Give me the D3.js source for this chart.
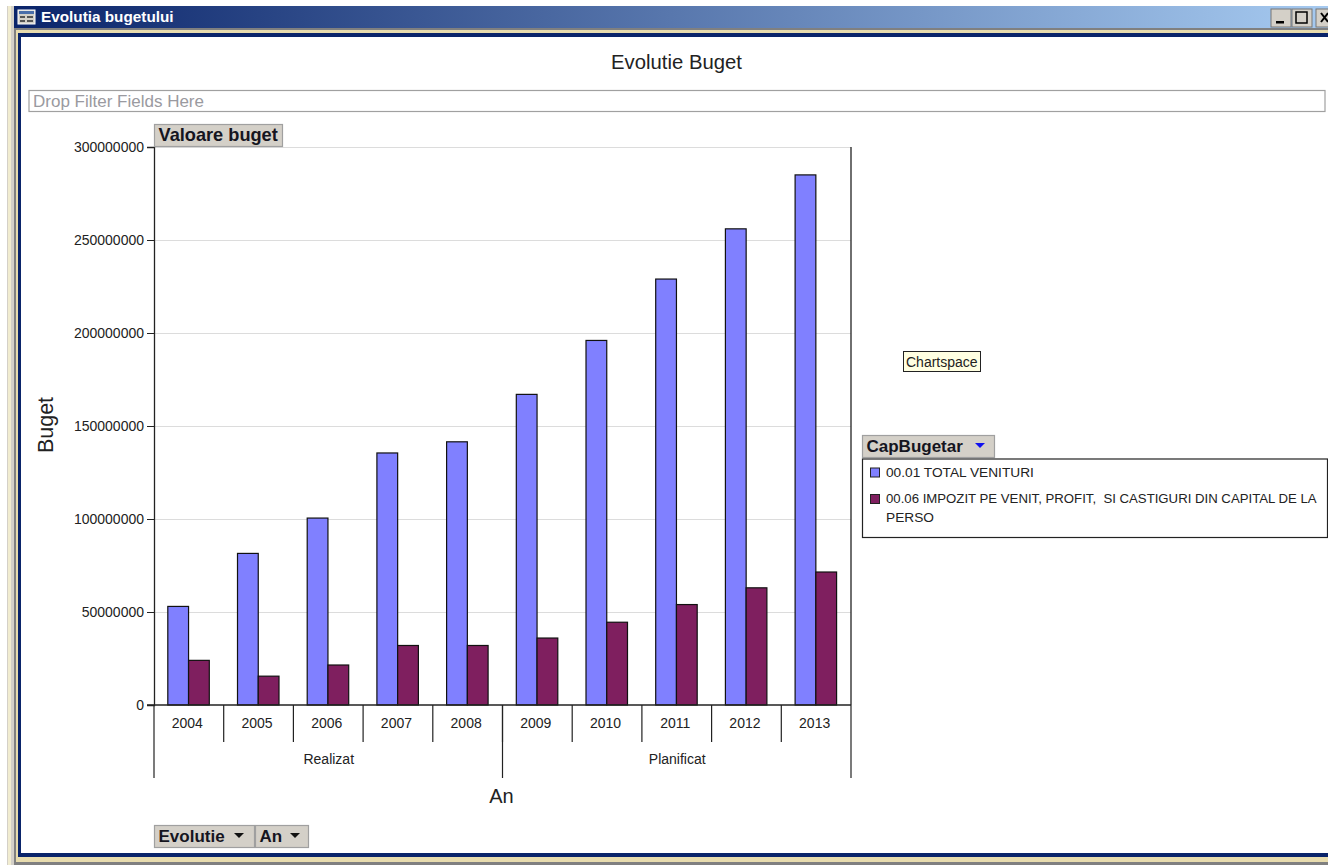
<!DOCTYPE html>
<html>
<head>
<meta charset="utf-8">
<title>Evolutia bugetului</title>
<script src="https://cdn.jsdelivr.net/npm/d3@7"></script>
<style>
  html, body { margin: 0; padding: 0; background: #fff; overflow: hidden; }
  svg { display: block; font-family: "Liberation Sans", Arial, sans-serif; }
</style>
</head>
<body>
<div id="chart"></div>
<script>
// values
var years = ['2004', '2005', '2006', '2007', '2008', '2009', '2010', '2011', '2012', '2013'];
var groups = ['Realizat', 'Planificat'];
var groupSizes = [5, 5];
var seriesNames = ['00.01 TOTAL VENITURI', '00.06 IMPOZIT PE VENIT, PROFIT,  SI CASTIGURI DIN CAPITAL DE LA', 'PERSO'];
var totalVenituri = [53000000, 81500000, 100500000, 135500000, 141500000, 167000000, 196000000, 229000000, 256000000, 285000000];
var impozit = [24000000, 15500000, 21500000, 32000000, 32000000, 36000000, 44500000, 54000000, 63000000, 71500000];
var yTicks = [0, 50000000, 100000000, 150000000, 200000000, 250000000, 300000000];

var W = 1328, H = 865;
var L = 154, R = 851, T = 147, B = 705;
var colors = ['#8080ff', '#7f1f5f'];
var ink = '#222';

var svg = d3.select('#chart').append('svg')
  .attr('width', W).attr('height', H)
  .attr('viewBox', '0 0 ' + W + ' ' + H);

// ---- window frame ----
var grad = svg.append('defs').append('linearGradient').attr('id', 'titlebar');
grad.append('stop').attr('offset', '0%').attr('stop-color', '#0a246a');
grad.append('stop').attr('offset', '100%').attr('stop-color', '#a6caf0');

svg.append('rect').attr('x', 7).attr('y', 6).attr('width', W - 7).attr('height', H - 6).attr('fill', '#d4d0c8');
svg.append('rect').attr('x', 8).attr('y', 6).attr('width', 3).attr('height', H - 6).attr('fill', '#f1ecd0');
svg.append('rect').attr('x', 14).attr('y', 27).attr('width', W - 14).attr('height', 838).attr('fill', '#808080');
svg.append('rect').attr('x', 16).attr('y', 30).attr('width', W - 16).attr('height', 832).attr('fill', '#e8dcae');
svg.append('rect').attr('x', 18).attr('y', 33).attr('width', W - 18).attr('height', 824).attr('fill', '#0a246a');
svg.append('rect').attr('x', 21).attr('y', 37).attr('width', W - 21).attr('height', 816).attr('fill', '#fff');
svg.append('rect').attr('x', 14).attr('y', 6).attr('width', W - 14).attr('height', 22).attr('fill', 'url(#titlebar)');

// title bar icon + caption
var icon = svg.append('g').attr('transform', 'translate(18,10)');
icon.append('rect').attr('width', 17).attr('height', 14).attr('fill', '#d4d0c8').attr('stroke', '#fff');
icon.append('rect').attr('x', 1).attr('y', 1).attr('width', 15).attr('height', 3).attr('fill', '#4a6ea9');
icon.append('rect').attr('x', 2).attr('y', 6).attr('width', 5).attr('height', 2).attr('fill', '#555');
icon.append('rect').attr('x', 2).attr('y', 10).attr('width', 5).attr('height', 2).attr('fill', '#555');
icon.append('rect').attr('x', 9).attr('y', 6).attr('width', 6).attr('height', 2).attr('fill', '#555');
icon.append('rect').attr('x', 9).attr('y', 10).attr('width', 6).attr('height', 2).attr('fill', '#555');
svg.append('text').attr('x', 41).attr('y', 22)
  .attr('font-size', 15.3).attr('font-weight', 700).attr('fill', '#fff')
  .text('Evolutia bugetului');

// window buttons
[1271, 1292, 1316].forEach(function(x) {
  svg.append('rect').attr('x', x).attr('y', 9).attr('width', 20).attr('height', 18)
    .attr('fill', '#d4d0c8').attr('stroke', '#777').attr('stroke-width', 1);
});
svg.append('rect').attr('x', 1276).attr('y', 21).attr('width', 8).attr('height', 2.5).attr('fill', '#000');
svg.append('rect').attr('x', 1296).attr('y', 12).attr('width', 11).attr('height', 11)
  .attr('fill', 'none').attr('stroke', '#000').attr('stroke-width', 1.5);
svg.append('path').attr('d', 'M1321,13L1328,22M1328,13L1321,22').attr('stroke', '#000').attr('stroke-width', 2);

// ---- chart title and filter zone ----
svg.append('text').attr('x', 676.5).attr('y', 69)
  .attr('text-anchor', 'middle').attr('font-size', 20.3).attr('fill', ink)
  .text('Evolutie Buget');

svg.append('rect').attr('x', 29).attr('y', 90.5).attr('width', 1296).attr('height', 21)
  .attr('fill', '#fff').attr('stroke', '#a0a0a0').attr('stroke-width', 1.2);
svg.append('text').attr('x', 33).attr('y', 107)
  .attr('font-size', 17).attr('fill', '#9a9aa0')
  .text('Drop Filter Fields Here');

// ---- scales ----
var x0 = d3.scaleBand().domain(years).range([L, R]);
var x1 = d3.scaleBand().domain([0, 1]).range([0, x0.bandwidth()]).paddingOuter(0.68).paddingInner(0);
var y = d3.scaleLinear().domain([0, 300000000]).range([B, T]);

// gridlines
svg.append('g').selectAll('line').data(yTicks.slice(1)).join('line')
  .attr('x1', L).attr('x2', R)
  .attr('y1', function(d) { return y(d) + 0.5; })
  .attr('y2', function(d) { return y(d) + 0.5; })
  .attr('stroke', '#dcdcdc').attr('stroke-width', 1);

// bars
[totalVenituri, impozit].forEach(function(vals, s) {
  svg.append('g').selectAll('rect').data(vals).join('rect')
    .attr('x', function(d, i) { return x0(years[i]) + x1(s) - 0.3; })
    .attr('y', function(d) { return y(d); })
    .attr('width', x1.bandwidth())
    .attr('height', function(d) { return y(0) - y(d); })
    .attr('fill', colors[s])
    .attr('stroke', '#111').attr('stroke-width', 1.2);
});

// y axis
var yAxis = d3.axisLeft(y).tickValues(yTicks).tickFormat(d3.format('d')).tickSize(7).tickPadding(3);
var yg = svg.append('g').attr('transform', 'translate(' + L + ',0)').call(yAxis);
yg.select('.domain').attr('stroke', ink).attr('stroke-width', 1.3);
yg.selectAll('line').attr('stroke', ink);
yg.selectAll('text').attr('font-size', 14).attr('fill', ink).attr('font-family', '"Liberation Sans", Arial, sans-serif');

// x axis: baseline, year labels, separators
svg.append('line').attr('x1', L - 7).attr('x2', R).attr('y1', B).attr('y2', B)
  .attr('stroke', ink).attr('stroke-width', 1.3);
svg.append('line').attr('x1', R).attr('x2', R).attr('y1', T).attr('y2', B)
  .attr('stroke', ink).attr('stroke-width', 1.3);

svg.append('g').selectAll('text').data(years).join('text')
  .attr('x', function(d) { return x0(d) + x0.bandwidth() / 2 - 1.5; })
  .attr('y', 728)
  .attr('text-anchor', 'middle').attr('font-size', 14).attr('fill', ink)
  .text(function(d) { return d; });

svg.append('g').selectAll('line').data(years.slice(1)).join('line')
  .attr('x1', function(d) { return x0(d); })
  .attr('x2', function(d) { return x0(d); })
  .attr('y1', B).attr('y2', 742)
  .attr('stroke', ink).attr('stroke-width', 1.2);

// group level of the axis
var start = 0;
var groupEdges = [L];
groups.forEach(function(g, i) {
  var first = years[start];
  var last = years[start + groupSizes[i] - 1];
  var gx0 = x0(first), gx1 = x0(last) + x0.bandwidth();
  groupEdges.push(gx1);
  svg.append('text').attr('x', (gx0 + gx1) / 2 + 0.5).attr('y', 764)
    .attr('text-anchor', 'middle').attr('font-size', 14).attr('fill', ink)
    .text(g);
  start += groupSizes[i];
});
svg.append('g').selectAll('line').data(groupEdges).join('line')
  .attr('x1', function(d) { return d; })
  .attr('x2', function(d) { return d; })
  .attr('y1', B).attr('y2', 778)
  .attr('stroke', ink).attr('stroke-width', 1.2);

// axis titles
svg.append('text').attr('x', 501.5).attr('y', 803)
  .attr('text-anchor', 'middle').attr('font-size', 20).attr('fill', ink).text('An');
svg.append('text')
  .attr('transform', 'translate(53,425) rotate(-90)')
  .attr('text-anchor', 'middle').attr('font-size', 21.5).attr('fill', ink).text('Buget');

// field buttons
function fieldButton(x, y0, w, label, size, arrow, arrowColor) {
  svg.append('rect').attr('x', x + 0.5).attr('y', y0 + 0.5).attr('width', w).attr('height', 22)
    .attr('fill', '#d4d0c8').attr('stroke', '#a0a0a0').attr('stroke-width', 1.2);
  svg.append('text').attr('x', x + 4.5).attr('y', y0 + 17)
    .attr('font-size', size).attr('font-weight', 700).attr('fill', '#15151f').text(label);
  if (arrow != null) {
    svg.append('path')
      .attr('d', 'M' + arrow + ',' + (y0 + 8) + 'h10l-5,5z')
      .attr('fill', arrowColor);
  }
}
fieldButton(154, 124, 128, 'Valoare buget', 18.2);
fieldButton(154, 825, 100, 'Evolutie', 17, 234, '#111');
fieldButton(255, 825, 53, 'An', 17, 290, '#111');
fieldButton(862, 435, 132, 'CapBugetar', 17, 975, '#1010f0');

// tooltip
svg.append('rect').attr('x', 903.5).attr('y', 351.5).attr('width', 77).attr('height', 20)
  .attr('fill', '#ffffe1').attr('stroke', '#222').attr('stroke-width', 1);
svg.append('text').attr('x', 906).attr('y', 367).attr('font-size', 14).attr('fill', ink).text('Chartspace');

// legend
svg.append('rect').attr('x', 862.5).attr('y', 459).attr('width', 465).attr('height', 78.5)
  .attr('fill', '#fff').attr('stroke', ink).attr('stroke-width', 1.2);
[0, 1].forEach(function(s) {
  svg.append('rect').attr('x', 870.5).attr('y', s === 0 ? 468 : 494.5).attr('width', 9).attr('height', 9)
    .attr('fill', colors[s]).attr('stroke', '#222');
});
[[886, 477], [886, 503], [886, 522]].forEach(function(p, i) {
  svg.append('text').attr('x', p[0]).attr('y', p[1])
    .attr('font-size', i === 1 ? 13.2 : 13.7).attr('fill', ink).style('white-space', 'pre')
    .text(seriesNames[i]);
});
</script>
</body>
</html>
